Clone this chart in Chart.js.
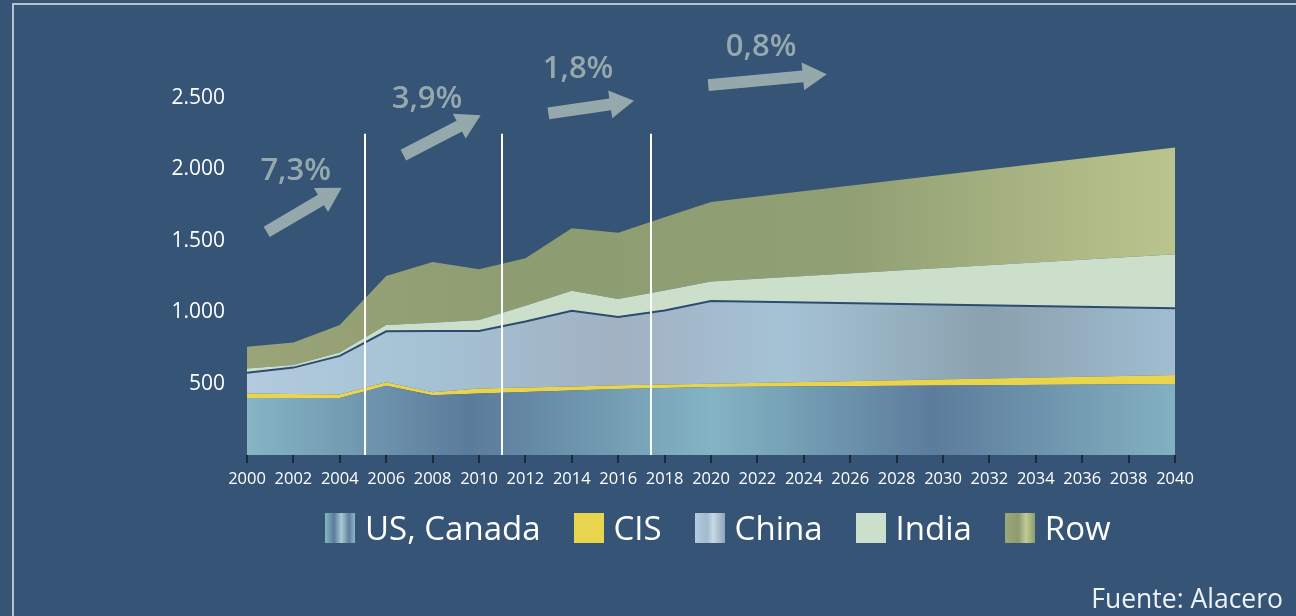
<!DOCTYPE html>
<html>
<head>
<meta charset="utf-8">
<script src="https://cdn.jsdelivr.net/npm/chart.js@4.4.1/dist/chart.umd.min.js"></script>
<style>
  html, body { margin: 0; padding: 0; background: #355476; overflow: hidden; }
  body { width: 1296px; height: 616px; position: relative; font-family: "Open Sans", sans-serif; }
  #frame { position: absolute; left: 12px; top: 3px; width: 2000px; height: 2000px;
           border-left: 2px solid #b5c1cd; border-top: 2px solid #b5c1cd; }
  #chart { position: absolute; left: 0; top: 0; }
  #legend { position: absolute; left: 325px; top: 510px; display: flex; align-items: center; }
  .item { display: flex; align-items: center; margin-right: 33px; color: #fff; font-size: 33px; line-height: 36px; }
  .box { width: 30px; height: 30px; margin-right: 10px; }
  #source { position: absolute; right: 13px; top: 580px; color: #eef2f6; font-size: 26.5px; line-height: 36px; }
</style>
</head>
<body>
<div id="frame"></div>
<canvas id="chart" width="1296" height="616"></canvas>
<div id="legend"></div>
<div id="source">Fuente: Alacero</div>
<script>
// Datos (lectura aproximada del gráfico)
const years = [2000, 2002, 2004, 2006, 2008, 2010, 2012, 2014, 2016, 2018, 2020, 2040];
const usCanada = [400, 400, 400, 485, 418, 430, 442, 452, 462, 470, 477, 497];
const cis      = [30, 28, 24, 25, 22, 35, 30, 28, 26, 24, 22, 63];
const china    = [146, 184, 270, 356, 428, 403, 463, 530, 478, 518, 580, 467];
const india    = [29, 18, 24, 44, 58, 77, 110, 140, 126, 140, 136, 378];
const row      = [153, 157, 192, 343, 426, 356, 333, 438, 464, 513, 556, 749];
const seriesNames = ['US, Canada', 'CIS', 'China', 'India', 'Row'];

// Separadores de periodos (años) y tasas de crecimiento
const dividers = [2005.1, 2011, 2017.4];
const growthLabels = ['7,3%', '3,9%', '1,8%', '0,8%'];
// [año inicio, valor inicio, año fin, valor fin, año etiqueta, valor etiqueta]
const growthArrows = [
    [2000.85, 1563, 2004.08, 1871, 2002.1, 1990],
    [2006.74, 2100, 2010.07, 2380, 2007.76, 2492],
    [2012.99, 2392, 2016.68, 2480, 2014.27, 2702],
    [2019.88, 2590, 2024.99, 2667, 2022.16, 2853]
];

// Colores de relleno (degradados horizontales)
const fills = {
    us: [[0, '#86b5c5'], [0.24, '#5b7b9b'], [0.5, '#84b4c4'], [0.74, '#5c7c9c'], [1, '#83b1c1']],
    cis: '#e8d44d',
    china: [[0, '#b3cadf'], [0.2, '#a4c2d4'], [0.4, '#a1b1c2'], [0.58, '#a5c3d6'], [0.8, '#8aa1ae'], [1, '#a0bdd2']],
    india: '#cbdfcb',
    row: [[0, '#99a477'], [0.3, '#8e9c72'], [0.65, '#919f74'], [1, '#bac48d']]
};
const legendBoxes = [
    'linear-gradient(to right, #86b5c5, #5a7c9b 30%, #a9c9d6 55%, #5e7f9e 80%, #8cb8c7)',
    '#e8d44d',
    'linear-gradient(to right, #b5cbe0, #a3bacd 40%, #c9d8e5 60%, #8ea5b7)',
    '#cbdfcb',
    'linear-gradient(to right, #9ca779, #8e9a70 45%, #c2ca94 70%, #8e9a70)'
];

function gradientFill(stops) {
    return function (context) {
        const chart = context.chart;
        const area = chart.chartArea;
        if (!area) return stops[0][1];
        const g = chart.ctx.createLinearGradient(area.left, 0, area.right, 0);
        stops.forEach(s => g.addColorStop(s[0], s[1]));
        return g;
    };
}

function toPoints(values) {
    return values.map((v, i) => ({ x: years[i], y: v }));
}

function formatThousands(v) {
    return String(v).replace(/\B(?=(\d{3})+(?!\d))/g, '.');
}

function drawArrow(ctx, x1, y1, x2, y2) {
    const ang = Math.atan2(y2 - y1, x2 - x1);
    const len = Math.hypot(x2 - x1, y2 - y1);
    const shaft = 6, head = 14, headLen = 24;
    ctx.save();
    ctx.translate(x1, y1);
    ctx.rotate(ang);
    ctx.beginPath();
    ctx.moveTo(0, -shaft);
    ctx.lineTo(len - headLen, -shaft);
    ctx.lineTo(len - headLen, -head);
    ctx.lineTo(len, 0);
    ctx.lineTo(len - headLen, head);
    ctx.lineTo(len - headLen, shaft);
    ctx.lineTo(0, shaft);
    ctx.closePath();
    ctx.fill();
    ctx.restore();
}

const annotations = {
    id: 'annotations',
    afterDatasetsDraw(chart) {
        const { ctx, scales } = chart;
        const x = scales.x, y = scales.y;
        ctx.save();
        ctx.strokeStyle = '#ffffff';
        ctx.lineWidth = 2;
        dividers.forEach(yr => {
            const px = Math.round(x.getPixelForValue(yr));
            ctx.beginPath();
            ctx.moveTo(px, y.getPixelForValue(2250));
            ctx.lineTo(px, y.getPixelForValue(0));
            ctx.stroke();
        });
        ctx.fillStyle = '#95a9ad';
        ctx.textAlign = 'center';
        ctx.textBaseline = 'middle';
        ctx.font = '600 31px "Open Sans"';
        growthArrows.forEach((a, i) => {
            drawArrow(ctx, x.getPixelForValue(a[0]), y.getPixelForValue(a[1]),
                x.getPixelForValue(a[2]), y.getPixelForValue(a[3]));
            ctx.fillText(growthLabels[i], x.getPixelForValue(a[4]), y.getPixelForValue(a[5]));
        });
        ctx.restore();
    }
};

const datasets = [
    { label: seriesNames[0], data: toPoints(usCanada), backgroundColor: gradientFill(fills.us), fill: 'origin', borderWidth: 0, borderColor: 'transparent' },
    { label: seriesNames[1], data: toPoints(cis), backgroundColor: fills.cis, fill: '-1', borderWidth: 0, borderColor: 'transparent' },
    { label: seriesNames[2], data: toPoints(china), backgroundColor: gradientFill(fills.china), fill: '-1', borderWidth: 2, borderColor: '#2c4b70' },
    { label: seriesNames[3], data: toPoints(india), backgroundColor: fills.india, fill: '-1', borderWidth: 0, borderColor: 'transparent' },
    { label: seriesNames[4], data: toPoints(row), backgroundColor: gradientFill(fills.row), fill: '-1', borderWidth: 0, borderColor: 'transparent' }
];

new Chart(document.getElementById('chart'), {
    type: 'line',
    data: { datasets: datasets },
    options: {
        responsive: false,
        animation: false,
        layout: { padding: { left: 147, right: 121, top: 98, bottom: 121 } },
        elements: { point: { radius: 0 }, line: { tension: 0 } },
        plugins: { legend: { display: false }, tooltip: { enabled: false } },
        scales: {
            x: {
                type: 'linear',
                min: 2000,
                max: 2040,
                afterFit: s => { s.height = 40; },
                border: { display: false },
                grid: { drawOnChartArea: false, drawTicks: true, tickLength: 8, color: '#1b2838', lineWidth: 2 },
                ticks: {
                    stepSize: 2,
                    autoSkip: false,
                    maxRotation: 0,
                    padding: 6,
                    color: '#ffffff',
                    font: { family: 'Open Sans', size: 16.5 },
                    callback: v => String(v)
                }
            },
            y: {
                stacked: true,
                min: 0,
                max: 2500,
                afterFit: s => { s.width = 100; },
                border: { display: false },
                grid: { display: false },
                ticks: {
                    stepSize: 500,
                    padding: 14,
                    color: '#ffffff',
                    font: { family: 'Open Sans', size: 21 },
                    callback: v => (v === 0 ? '' : formatThousands(v))
                }
            }
        }
    },
    plugins: [annotations]
});

// Leyenda
const legend = document.getElementById('legend');
seriesNames.forEach((name, i) => {
    const item = document.createElement('div');
    item.className = 'item';
    const box = document.createElement('span');
    box.className = 'box';
    box.style.background = legendBoxes[i];
    const txt = document.createElement('span');
    txt.textContent = name;
    item.appendChild(box);
    item.appendChild(txt);
    legend.appendChild(item);
});
</script>
</body>
</html>
